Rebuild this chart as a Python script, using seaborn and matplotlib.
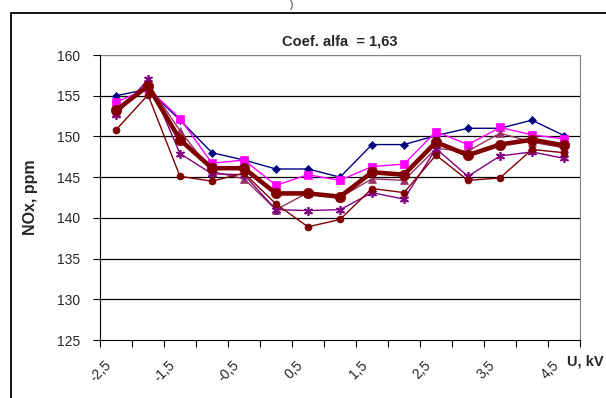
import matplotlib

matplotlib.use("Agg")

import matplotlib.pyplot as plt
import matplotlib.transforms as mtransforms
import numpy as np
import pandas as pd
import seaborn as sns
from matplotlib.patches import Rectangle

sns.set_style("ticks")
plt.rcParams["font.family"] = ["Liberation Sans", "DejaVu Sans"]

# U, kV categories (-2.5 .. 4.5 step 0.5)
u_labels = ["-2,5", "-2", "-1,5", "-1", "-0,5", "0", "0,5", "1", "1,5",
            "2", "2,5", "3", "3,5", "4", "4,5"]

# NOx, ppm
nox_diamond = [155.0, 155.8, 152.0, 148.0, 147.1, 146.0, 146.0, 145.0,
               149.0, 149.0, 150.1, 151.0, 151.0, 152.0, 150.1]
nox_square = [154.2, 155.9, 152.2, 146.7, 147.1, 144.0, 145.3, 144.6,
              146.3, 146.6, 150.6, 149.0, 151.1, 150.2, 149.7]
nox_triangle = [153.0, 156.5, 150.7, 145.7, 144.8, 141.0, 143.1, 142.5,
                144.8, 144.6, 148.5, 148.2, 150.4, 149.3, 148.6]
nox_star = [152.6, 157.0, 147.9, 145.4, 145.3, 141.0, 140.9, 141.0,
            143.1, 142.3, 148.5, 145.1, 147.6, 148.1, 147.3]
nox_circle = [150.8, 155.1, 145.1, 144.5, 145.5, 141.7, 138.9, 139.8,
              143.6, 143.1, 147.7, 144.6, 144.9, 148.4, 148.0]
nox_mean = [153.2, 156.2, 149.6, 146.1, 146.1, 143.0, 143.0, 142.6,
            145.6, 145.3, 149.3, 147.7, 149.0, 149.6, 148.9]

series = [
    ("diamond", nox_diamond, "#000080", "D", 4.5, 1.0),
    ("square", nox_square, "#FF00FF", "s", 6, 1.0),
    ("triangle", nox_triangle, "#993366", "^", 5.5, 1.0),
    ("star", nox_star, "#800080", (6, 2, 0), 6.5, 1.0),
    ("circle", nox_circle, "#800000", "o", 5, 1.0),
    ("mean", nox_mean, "#800000", "o", 7.5, 3.3),
]

fig = plt.figure(figsize=(6.06, 3.98), dpi=100)
ax = fig.add_axes([100 / 606, 58 / 398, 480 / 606, 285 / 398])

pos = np.arange(len(u_labels))
for name, vals, color, marker, ms, lw in series:
    df = pd.DataFrame({"pos": pos, "nox": vals})
    sns.lineplot(data=df, x="pos", y="nox", ax=ax, color=color, marker=marker,
                 markersize=ms, linewidth=lw, markeredgecolor=color,
                 markeredgewidth=1.2 if name == "star" else 0.5)

ax.set_xlim(-0.5, len(u_labels) - 0.5)
ax.set_ylim(125, 160)
ax.set_yticks(np.arange(125, 161, 5))
ax.set_xticks(np.arange(-0.5, len(u_labels), 1.0), minor=False)
ax.set_xticklabels([])
ax.set_xticks(pos[::2], minor=True)
ax.set_xticklabels(u_labels[::2], minor=True, rotation=45, ha="right",
                   rotation_mode="anchor", fontsize=10)
ax.tick_params(axis="x", which="minor", length=0, pad=13)
ax.tick_params(axis="x", which="major", length=5, direction="out", color="black")
ax.tick_params(axis="y", length=5, direction="out", labelsize=10, color="black",
               pad=9)
shift = mtransforms.ScaledTranslation(-12 / 100, 0, fig.dpi_scale_trans)
for lab in ax.get_xticklabels(minor=True):
    lab.set_transform(lab.get_transform() + shift)

for y in range(130, 160, 5):
    ax.axhline(y, color="black", linewidth=0.9, zorder=0)
ax.axhline(160, color="#808080", linewidth=1.0, zorder=0)

ax.spines["top"].set_visible(False)
ax.spines["right"].set_color("#808080")
ax.spines["left"].set_color("black")
ax.spines["bottom"].set_color("black")
ax.set_xlabel("")
ax.set_ylabel("NOx, ppm", fontsize=11.5, fontweight="bold")
ax.yaxis.set_label_coords((38 - 100) / 480, 0.5)
ax.set_title("Coef. alfa  = 1,63", fontsize=10.5, fontweight="bold", pad=7)

fig.text(567 / 606, 1 - 362 / 398, "U, kV", fontsize=10.5, fontweight="bold",
         ha="left", va="center")
fig.text(292 / 606, 1.0, ")", fontsize=7, ha="center", va="top")

fig.patches.append(Rectangle((11 / 606, -0.1), 1.2, 0.1 + 1 - 13 / 398,
                             transform=fig.transFigure, fill=False,
                             edgecolor="black", linewidth=1.3))

fig.savefig("out.png", dpi=100)
